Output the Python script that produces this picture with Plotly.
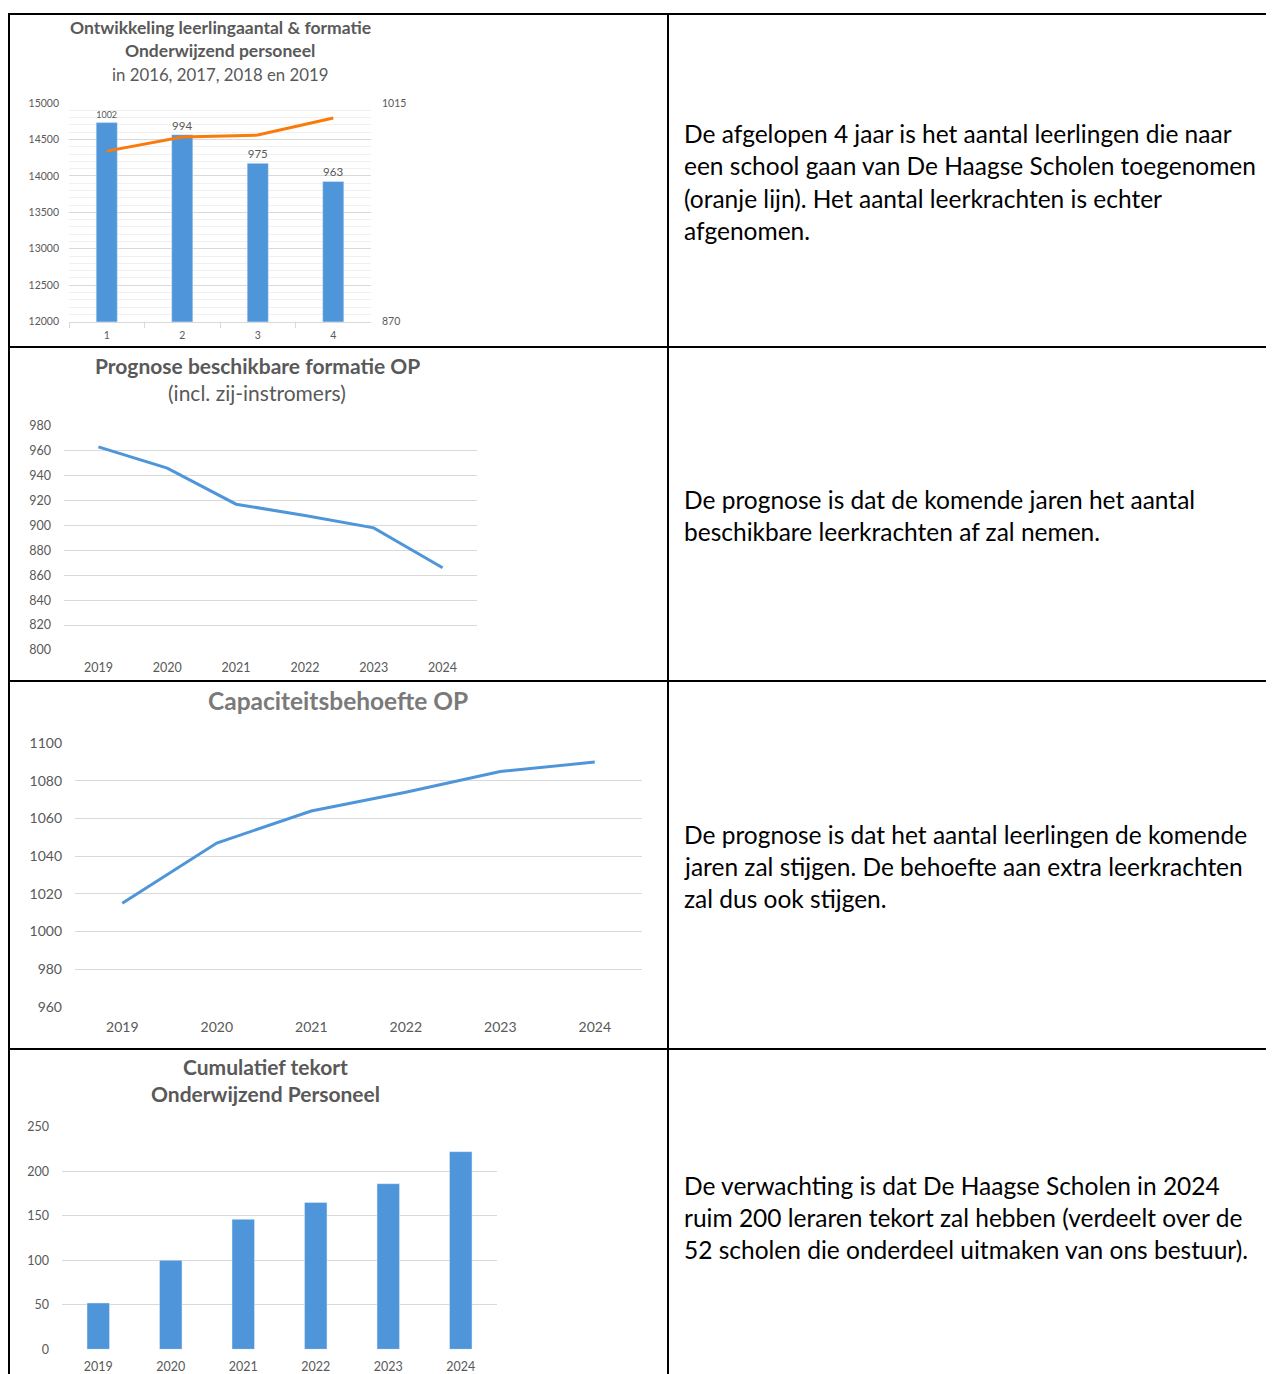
import plotly.graph_objects as go

W, H = 1274, 1374
OFF = 8  # page body margin of the exported html
FONT = "Lato"
GRAY = "#595959"
GRID = "#d9d9d9"
BLUE = "#4E96D9"
ORANGE = "#FA7A0A"

# ---- data ----
c1_cats = ["1", "2", "3", "4"]
c1_formatie = [1002, 994, 975, 963]          # bars, right axis
c1_leerlingen = [14340, 14532, 14560, 14794]  # line, left axis

c2_years = ["2019", "2020", "2021", "2022", "2023", "2024"]
c2_formatie = [963, 946, 917, 908, 898, 866]

c3_years = ["2019", "2020", "2021", "2022", "2023", "2024"]
c3_behoefte = [1015, 1047, 1064, 1074, 1085, 1090]

c4_years = ["2019", "2020", "2021", "2022", "2023", "2024"]
c4_tekort = [52, 100, 146, 165, 186, 222]

texts = [
    (["De afgelopen 4 jaar is het aantal leerlingen die naar",
      "een school gaan van De Haagse Scholen toegenomen",
      "(oranje lijn). Het aantal leerkrachten is echter",
      "afgenomen."], 134),
    (["De prognose is dat de komende jaren het aantal",
      "beschikbare leerkrachten af zal nemen."], 500),
    (["De prognose is dat het aantal leerlingen de komende",
      "jaren zal stijgen. De behoefte aan extra leerkrachten",
      "zal dus ook stijgen."], 834),
    (["De verwachting is dat De Haagse Scholen in 2024",
      "ruim 200 leraren tekort zal hebben (verdeelt over de",
      "52 scholen die onderdeel uitmaken van ons bestuur)."], 1185),
]


def px(x):
    return (x - OFF) / W


def py(y):
    return 1 - (y - OFF) / H


fig = go.Figure()

# chart 1
fig.add_trace(go.Bar(x=c1_cats, y=c1_formatie, xaxis="x", yaxis="y",
                     marker=dict(color=BLUE), width=0.28,
                     text=[str(v) for v in c1_formatie], textposition="outside",
                     textfont=dict(size=11.5, color=GRAY, family=FONT),
                     cliponaxis=False, showlegend=False))
fig.add_trace(go.Scatter(x=c1_cats, y=c1_leerlingen, xaxis="x", yaxis="y2",
                         mode="lines", line=dict(color=ORANGE, width=3),
                         showlegend=False))
# chart 2
fig.add_trace(go.Scatter(x=c2_years, y=c2_formatie, xaxis="x3", yaxis="y3",
                         mode="lines", line=dict(color=BLUE, width=3),
                         showlegend=False))
# chart 3
fig.add_trace(go.Scatter(x=c3_years, y=c3_behoefte, xaxis="x4", yaxis="y4",
                         mode="lines", line=dict(color=BLUE, width=3),
                         showlegend=False))
# chart 4
fig.add_trace(go.Bar(x=c4_years, y=c4_tekort, xaxis="x5", yaxis="y5",
                     marker=dict(color=BLUE), width=0.31, showlegend=False))


def xax(d0, d1, size, anchor, n, standoff):
    return dict(domain=[px(d0), px(d1)], anchor=anchor, type="category",
                range=[-0.5, n - 0.5],
                showgrid=False, zeroline=False, showline=False, automargin=False,
                ticklabelstandoff=standoff,
                tickfont=dict(size=size, color=GRAY, family=FONT), fixedrange=True)


def yax(d_top, d_bot, rng, dtick, size, anchor, standoff):
    return dict(domain=[py(d_bot), py(d_top)], anchor=anchor, range=rng, dtick=dtick,
                showgrid=True, gridcolor=GRID, gridwidth=1, zeroline=False,
                showline=False, automargin=False, tickformat="d",
                tickfont=dict(size=size, color=GRAY, family=FONT),
                ticklabelstandoff=standoff, fixedrange=True)


layout = dict(
    width=W, height=H, margin=dict(l=0, r=0, t=0, b=0, autoexpand=False),
    paper_bgcolor="white", plot_bgcolor="rgba(0,0,0,0)",
    font=dict(family=FONT, color=GRAY),
    bargap=0.2,
)

x1 = xax(69, 371, 10.5, "y", len(c1_cats), 4)
x1.update(showline=True, linecolor=GRID, tickson="boundaries", ticks="outside",
          ticklen=5, tickcolor=GRID)
layout["xaxis"] = x1
layout["yaxis"] = dict(domain=[py(321.7), py(103)], anchor="x", side="right",
                       range=[870, 1015], tickvals=[870, 1015], showgrid=False,
                       zeroline=False, showline=False, automargin=False,
                       tickfont=dict(size=10.5, color=GRAY, family=FONT),
                       ticklabelstandoff=10, fixedrange=True)
layout["yaxis2"] = dict(overlaying="y", side="left", anchor="x",
                        range=[12000, 15000], dtick=500, showgrid=True,
                        gridcolor=GRID, zeroline=False, showline=False,
                        automargin=False, tickformat="d",
                        minor=dict(dtick=100, showgrid=True, gridcolor="#f0f0f0"),
                        tickfont=dict(size=10.5, color=GRAY, family=FONT),
                        ticklabelstandoff=9, fixedrange=True)

layout["xaxis3"] = xax(64, 477, 12.5, "y3", len(c2_years), 8)
layout["yaxis3"] = yax(425.7, 650, [800, 980], 20, 12.5, "x3", 12)
layout["xaxis4"] = xax(75, 642, 14, "y4", len(c3_years), 10)
layout["yaxis4"] = yax(743.3, 1006.7, [960, 1100], 20, 14, "x4", 12)
layout["xaxis5"] = xax(62, 497, 12.5, "y5", len(c4_years), 8)
layout["yaxis5"] = yax(1126.7, 1349.3, [0, 250], 50, 12.5, "x5", 12)
fig.update_layout(**layout)

ann = []


def title(txt, cx, cy, size, bold=True, color=GRAY):
    t = f"<b>{txt}</b>" if bold else txt
    ann.append(dict(text=t, x=px(cx), y=py(cy), xref="paper", yref="paper",
                    xanchor="center", yanchor="middle", showarrow=False,
                    font=dict(size=size, color=color, family=FONT)))


title("Ontwikkeling leerlingaantal &amp; formatie", 220, 28, 17.5)
title("Onderwijzend personeel", 220, 51, 17.5)
title("in 2016, 2017, 2018 en 2019", 220, 74, 16.8, bold=False)
title("Prognose beschikbare formatie OP", 257, 365, 21)
title("(incl. zij-instromers)", 257, 392, 21, bold=False)
title("Capaciteitsbehoefte OP", 338, 700, 24.5, color="#7a7a7a")
title("Cumulatief tekort", 265, 1066, 21)
title("Onderwijzend Personeel", 265, 1093, 21)

for lines, y0 in texts:
    for i, line in enumerate(lines):
        ann.append(dict(text=line, x=px(682), y=py(y0 + 32 * i), xref="paper",
                        yref="paper", xanchor="left", yanchor="middle",
                        showarrow=False, font=dict(size=24.5, color="black", family=FONT)))

fig.update_layout(annotations=ann)

shapes = []


def seg(x0, y0, x1_, y1):
    shapes.append(dict(type="line", xref="paper", yref="paper",
                       x0=px(x0), y0=py(y0), x1=px(x1_), y1=py(y1),
                       line=dict(color="black", width=2)))


seg(8, 14, 1282, 14)
seg(8, 347, 1282, 347)
seg(8, 681, 1282, 681)
seg(8, 1049, 1282, 1049)
seg(9, 14, 9, 1382)
seg(668, 14, 668, 1382)
fig.update_layout(shapes=shapes)

fig.write_html("out.html")
